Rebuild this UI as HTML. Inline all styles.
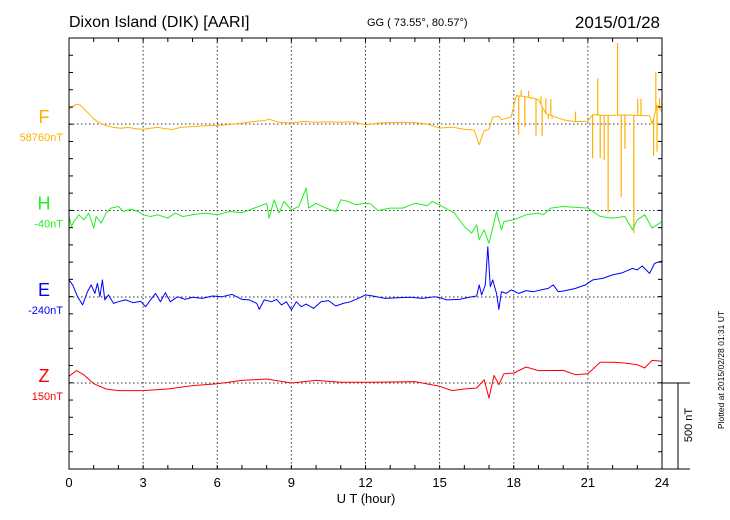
<!DOCTYPE html>
<html><head><meta charset="utf-8"><style>
html,body{margin:0;padding:0;background:#fff;}
svg{display:block;font-family:"Liberation Sans",sans-serif;}
</style></head><body>
<svg id="chart" width="730" height="520" viewBox="0 0 730 520" xmlns="http://www.w3.org/2000/svg">
<text x="69" y="27" font-size="16">Dixon Island (DIK)  [AARI]</text>
<text x="367" y="26" font-size="11">GG ( 73.55°,  80.57°)</text>
<text x="660" y="28" font-size="17" text-anchor="end">2015/01/28</text>
<text x="366" y="503" font-size="13" text-anchor="middle">U T (hour)</text>
<text transform="translate(692,425) rotate(-90)" font-size="11" text-anchor="middle">500 nT</text>
<text transform="translate(724,370) rotate(-90)" font-size="8.5" text-anchor="middle">Plotted at 2015/02/28 01:31  UT</text>
<g id="grid"></g><g id="series"></g><g id="axes"></g>
</svg>
<script>
const hourTicks = [0,3,6,9,12,15,18,21,24];
const seriesNames = ['F','H','E','Z'];
const seriesOffsets = ['58760nT','-40nT','-240nT','150nT'];
const seriesColors = ['#ffb000','#22ee22','#0000ff','#ff0000'];

const fHours = [0,0.15,0.3,0.45,0.6,0.8,1.0,1.2,1.5,1.8,2.1,2.4,2.7,3.0,3.3,3.6,3.9,4.2,4.5,5,5.5,6,6.5,7,7.5,7.9,8.1,8.5,9,9.5,10,10.5,11,11.5,12,12.5,13,13.5,14,14.5,15,15.5,16,16.4,16.6,16.8,17.0,17.15,17.4,17.5,17.9,18.1,18.4,18.8,19.0,19.3,19.6,20,20.5,21,21.2,21.6,22,22.5,23,23.5,23.6,23.8,24];
const fValues = [85,100,115,110,90,60,30,10,-10,-20,-25,-20,-28,-30,-25,-20,-28,-32,-20,-15,-10,-8,-3,5,15,20,28,10,5,15,10,12,10,12,-5,5,8,10,8,0,-24,-18,-30,-35,-120,-40,-30,40,45,25,42,165,160,150,140,60,45,25,13,17,55,50,50,52,50,48,0,110,70];
const fSpikeHours = [18.1,18.2,18.3,18.45,18.6,18.7,18.9,19.1,19.15,19.3,19.4,19.5,19.55,20.5,21.19,21.4,21.5,21.66,21.82,22.2,22.35,22.5,22.86,23.02,23.15,23.66,23.75,23.8,23.9];
const fSpikeValues = [168,-64,197,-17,191,145,-68,160,-68,150,30,145,31,72,-199,265,-199,-209,-517,470,-422,-144,-633,145,145,-185,302,-160,150];

const hHours = [0,0.1,0.2,0.4,0.6,0.8,1.0,1.1,1.3,1.5,1.7,2.0,2.2,2.5,2.8,3.0,3.3,3.6,4,4.3,4.6,5,5.5,6,6.5,7,7.5,8,8.1,8.3,8.5,8.7,9,9.3,9.6,9.7,10,10.4,10.8,11,11.3,11.6,12,12.2,12.5,13,13.5,14,14.5,14.7,15,15.3,15.6,16,16.3,16.5,16.6,16.8,17.0,17.1,17.3,17.5,17.6,18,18.5,19,19.2,19.5,20,21,21.5,22,22.5,22.8,23,23.3,23.6,23.8,24];
const hValues = [-35,-93,-64,-25,-54,-15,-102,-35,-73,-15,14,23,-6,8,-6,-25,-35,-25,-44,-15,-35,-25,-15,-25,-6,-12,14,42,-44,62,-15,52,4,23,130,14,42,14,-6,62,52,33,42,39,0,14,14,42,27,52,33,8,-15,-93,-131,-83,-170,-112,-190,-131,-6,-112,-64,-54,-25,-15,-25,14,23,14,-35,-44,-35,-112,-54,-25,-102,-83,-64];

const eHours = [0,0.15,0.35,0.55,0.75,0.9,1.05,1.15,1.25,1.35,1.45,1.6,1.8,2.0,2.3,2.6,2.9,3.1,3.3,3.5,3.7,3.9,4.1,4.4,4.7,5.0,5.4,5.8,6.2,6.6,7,7.3,7.6,7.7,7.9,8.2,8.4,8.6,8.8,9.0,9.2,9.4,9.6,9.9,10.2,10.5,10.8,11.1,11.4,11.7,12,12.3,12.8,13.3,13.8,14.3,14.8,15.0,15.3,15.8,16.2,16.5,16.6,16.7,16.85,16.95,17.05,17.15,17.3,17.4,17.5,17.7,17.9,18.2,18.5,18.8,19.1,19.4,19.6,19.8,20.1,20.5,20.9,21.2,21.6,22,22.4,22.8,23.0,23.2,23.5,23.7,23.9,24];
const eValues = [99,70,2,-46,31,70,21,79,2,99,-17,12,-37,-27,-17,-33,-25,-56,-17,21,-27,25,-27,2,-14,-2,-8,6,2,15,-14,-17,-37,-72,-17,-27,-14,-46,-27,-75,-27,-56,-41,-66,-27,-21,-52,-37,-27,-8,12,6,-8,-4,-2,-8,2,-4,-17,-14,-2,6,70,12,70,292,60,99,21,-72,31,21,41,21,37,31,41,50,70,31,37,50,70,99,108,128,141,166,157,180,137,195,205,209];

const zHours = [0,0.3,0.6,1,1.5,2,3,4,5,6,7,8,9,10,11,12,13,14,15,15.5,16,16.5,16.8,17,17.2,17.4,17.6,18,18.5,19,20,20.5,21,21.5,22,22.5,23,23.3,23.6,24];
const zValues = [39,72,48,-4,-35,-44,-44,-35,-15,-4,15,23,0,15,4,4,6,8,-19,-44,-35,-29,19,-87,44,-10,54,58,93,72,73,48,54,120,120,116,106,87,131,126];

const X0 = 69, X1 = 662, YTOP = 38, YBOT = 469;
const baselines = [124, 210.5, 297, 383];
const PX_PER_NT = 17.24 / 100;
function xs(h){ return X0 + (X1 - X0) * h / 24; }
function ys(i, v){ return baselines[i] - v * PX_PER_NT; }
const NS = 'http://www.w3.org/2000/svg';
function mk(tag, attrs, parent){ const e = document.createElementNS(NS, tag); for (const k in attrs) e.setAttribute(k, attrs[k]); parent.appendChild(e); return e; }
const grid = document.getElementById('grid'), series = document.getElementById('series'), axes = document.getElementById('axes');

// vertical dotted grid
hourTicks.slice(1, -1).forEach(h => {
  const l = mk('line', {x1: xs(h), x2: xs(h), y1: YTOP, y2: YBOT, stroke: '#333', 'stroke-width': 1, 'stroke-dasharray': '1.5,2.5'}, grid);
  
  
});
// baseline dotted lines
baselines.forEach((b, i) => {
  const l = mk('line', {x1: X0, x2: X1, y1: b, y2: b, stroke: '#333', 'stroke-width': 1, 'stroke-dasharray': '1.5,2.5'}, grid);
  
  
});

function drawSeries(idx, hours, vals, sH, sV){
  let pts = hours.map((h, k) => [h, vals[k]]);
  let d = '';
  pts.forEach((p, k) => { d += (k ? 'L' : 'M') + xs(p[0]).toFixed(1) + ',' + ys(idx, p[1]).toFixed(1); });
  const p = mk('path', {d: d, fill: 'none', stroke: seriesColors[idx], 'stroke-width': 1, 'stroke-linejoin': 'round'}, series);
  
  
  if (sH) {
    sH.forEach((h, k) => {
      // find base value by interpolation
      let j = 1; while (j < hours.length - 1 && hours[j] < h) j++;
      const t = (h - hours[j-1]) / (hours[j] - hours[j-1]);
      const base = vals[j-1] + (vals[j] - vals[j-1]) * t;
      const s = mk('line', {x1: xs(h), x2: xs(h), y1: ys(idx, base), y2: ys(idx, sV[k]), stroke: seriesColors[idx], 'stroke-width': 1.2}, series);
      
      
    });
  }
}
drawSeries(0, fHours, fValues, fSpikeHours, fSpikeValues);
drawSeries(1, hHours, hValues);
drawSeries(2, eHours, eValues);
drawSeries(3, zHours, zValues);

// frame
const fr = mk('rect', {x: X0, y: YTOP, width: X1 - X0, height: YBOT - YTOP, fill: 'none', stroke: '#000', 'stroke-width': 1}, axes);


const ext = mk('line', {x1: X1, x2: 690, y1: YBOT, y2: YBOT, stroke: '#000'}, axes);


const sb1 = mk('line', {x1: X1, x2: 690, y1: 383, y2: 383, stroke: '#000'}, axes);


const sb2 = mk('line', {x1: 678, x2: 678, y1: 383, y2: YBOT, stroke: '#000'}, axes);



// hour ticks
for (let h = 0; h <= 24; h++) {
  const len = 4;
  const t1 = mk('line', {x1: xs(h), x2: xs(h), y1: YTOP, y2: YTOP + len, stroke: '#000'}, axes);
  
  
  const t2 = mk('line', {x1: xs(h), x2: xs(h), y1: YBOT, y2: YBOT - len, stroke: '#000'}, axes);
  
  
}
hourTicks.forEach(h => {
  const t = mk('text', {x: xs(h), y: 487, 'font-size': 13, 'text-anchor': 'middle'}, axes);
  t.textContent = String(h);
  
  
});
// y ticks
for (let k = 1; k < 25; k++) {
  const y = YTOP + k * 17.24;
  const a = mk('line', {x1: X0, x2: X0 + 4, y1: y, y2: y, stroke: '#000'}, axes);
  
  
  const b = mk('line', {x1: X1, x2: X1 - 4, y1: y, y2: y, stroke: '#000'}, axes);
  
  
}
// series labels
seriesNames.forEach((n, i) => {
  const t = mk('text', {x: 44, y: baselines[i] - 1, 'font-size': 18, 'text-anchor': 'middle', fill: seriesColors[i]}, axes);
  t.textContent = n;
  
  
  const o = mk('text', {x: 63, y: baselines[i] + 17, 'font-size': 11, 'text-anchor': 'end', fill: seriesColors[i]}, axes);
  o.textContent = seriesOffsets[i];
  
  
});
</script>
</body></html>
